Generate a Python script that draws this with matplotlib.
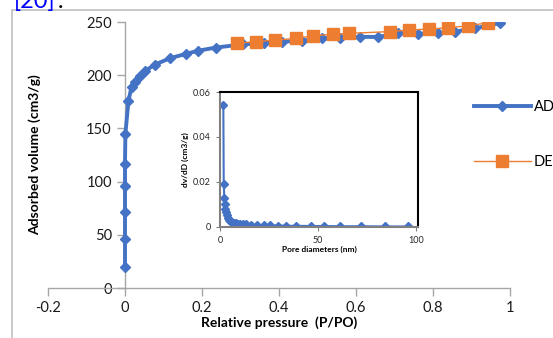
import numpy as np
import matplotlib.pyplot as plt
from matplotlib.patches import Rectangle

plt.rcParams['font.family'] = ['Lato', 'DejaVu Sans']

# adsorption branch
ads_x = [0.0, 0.0, 0.0, 0.0, 0.0, 0.001, 0.009, 0.017, 0.026, 0.039, 0.052, 0.078,
         0.117, 0.158, 0.19, 0.236, 0.307, 0.36, 0.407, 0.459, 0.511, 0.558, 0.61,
         0.658, 0.71, 0.76, 0.814, 0.857, 0.909, 0.974]
ads_y = [20, 46, 71, 96, 117, 145, 176, 189, 194, 199, 204, 210,
         216, 220, 223, 226, 229, 230, 231.5, 232.4, 234.6, 234.6, 236,
         236, 239.3, 239, 239.3, 241, 244, 249]
# desorption branch
des_x = [0.29, 0.34, 0.39, 0.444, 0.489, 0.539, 0.583, 0.688, 0.738, 0.789, 0.84, 0.892, 0.944]
des_y = [230, 231.5, 233, 234.6, 237, 238.4, 239.3, 241, 242.5, 243.4, 244.6, 246.5, 249.3]

# pore size distribution (inset)
pore_d = [1.7, 1.9, 2.2, 2.5, 2.8, 3.1, 3.5, 4.0, 4.6, 5.3, 6.0, 7.0, 8.0, 9.0, 10.2,
          11.5, 13.5, 16, 19, 22.5, 25.4, 29.5, 33.9, 39, 46.6, 52.9, 61.4, 72, 84.4, 95.7]
dvdd = [0.054, 0.019, 0.013, 0.010, 0.008, 0.0065, 0.005, 0.004, 0.003, 0.0025, 0.002,
        0.0017, 0.0015, 0.0013, 0.0012, 0.0011, 0.001, 0.0009, 0.0008, 0.0007, 0.0006,
        0.0005, 0.0004, 0.0004, 0.0003, 0.0003, 0.0002, 0.0002, 0.0001, 0.0001]

blue = '#4472C4'
orange = '#ED7D31'
grey = '#A6A6A6'

fig = plt.figure(figsize=(5.53, 3.38), dpi=100)

# page frame and citation text cut at top (as in the screenshot)
fig.patches.append(Rectangle((12/553, -0.1), 1.2, 0.97 + 0.1, transform=fig.transFigure,
                             fill=False, edgecolor='#BFBFBF', linewidth=1.2))
fig.text(14/553, 1 - 8/338, '[20]', color='#0000FF', fontsize=17, va='baseline')
fig.text(58/553, 1 - 8/338, '.', color='black', fontsize=17, va='baseline')

ax = fig.add_axes([48/553, 50/338, 462/553, 266/338])
ax.set_facecolor('none')
ax.plot(ads_x, ads_y, color=blue, lw=2.8, marker='D', ms=5, label='ADS', zorder=3)
ax.plot(des_x, des_y, color=orange, lw=1, marker='s', ms=8, label='DES', zorder=4)
ax.set_xlim(-0.2, 1)
ax.set_ylim(0, 250)
ax.set_xticks([-0.2, 0, 0.2, 0.4, 0.6, 0.8, 1])
ax.set_xticklabels(['-0.2', '0', '0.2', '0.4', '0.6', '0.8', '1'])
ax.set_yticks([0, 50, 100, 150, 200, 250])
ax.spines['left'].set_position(('data', 0))
ax.spines['right'].set_visible(False)
ax.spines['top'].set_visible(False)
for sp in ['left', 'bottom']:
    ax.spines[sp].set_color(grey)
    ax.spines[sp].set_linewidth(1)
ax.tick_params(colors=grey, labelcolor='#1a1a1a', labelsize=10.5, length=6, width=1)
ax.set_xlabel('Relative pressure  (P/PO)', fontsize=10, fontweight='bold')
ax.xaxis.set_label_coords(0.5, -0.105)
ax.set_ylabel('Adsorbed volume (cm3/g)', fontsize=10, fontweight='bold')
ax.yaxis.set_label_coords((41 - 48) / 462, 0.5)
ax.legend(loc='upper left', bbox_to_anchor=(474/553, 1 - 100/338), bbox_transform=fig.transFigure,
          frameon=False, fontsize=10.5, labelspacing=2.8, handlelength=3.9, handletextpad=0.2,
          borderpad=0, borderaxespad=0)

# inset
ins = fig.add_axes([220/553, (338 - 226.7)/338, 198/553, 134.7/338])
ins.plot(pore_d, dvdd, color=blue, lw=1.5, marker='D', ms=4)
ins.set_xlim(0, 101)
ins.set_ylim(0, 0.06)
ins.set_xticks([0, 50, 100])
ins.set_yticks([0, 0.02, 0.04, 0.06])
ins.set_yticklabels(['0', '0.02', '0.04', '0.06'])
for sp in ['left', 'bottom']:
    ins.spines[sp].set_color('#808080')
    ins.spines[sp].set_linewidth(1.5)
for sp in ['top', 'right']:
    ins.spines[sp].set_color('black')
    ins.spines[sp].set_linewidth(1.5)
ins.tick_params(colors='#808080', labelcolor='#262626', labelsize=6.5, length=3, width=0.8)
ins.set_xlabel('Pore diameters (nm)', fontsize=6, fontweight='bold', labelpad=1)
ins.set_ylabel('dv/dD (cm3/g)', fontsize=6, fontweight='bold', labelpad=3)

fig.savefig('out.png', dpi=100)
